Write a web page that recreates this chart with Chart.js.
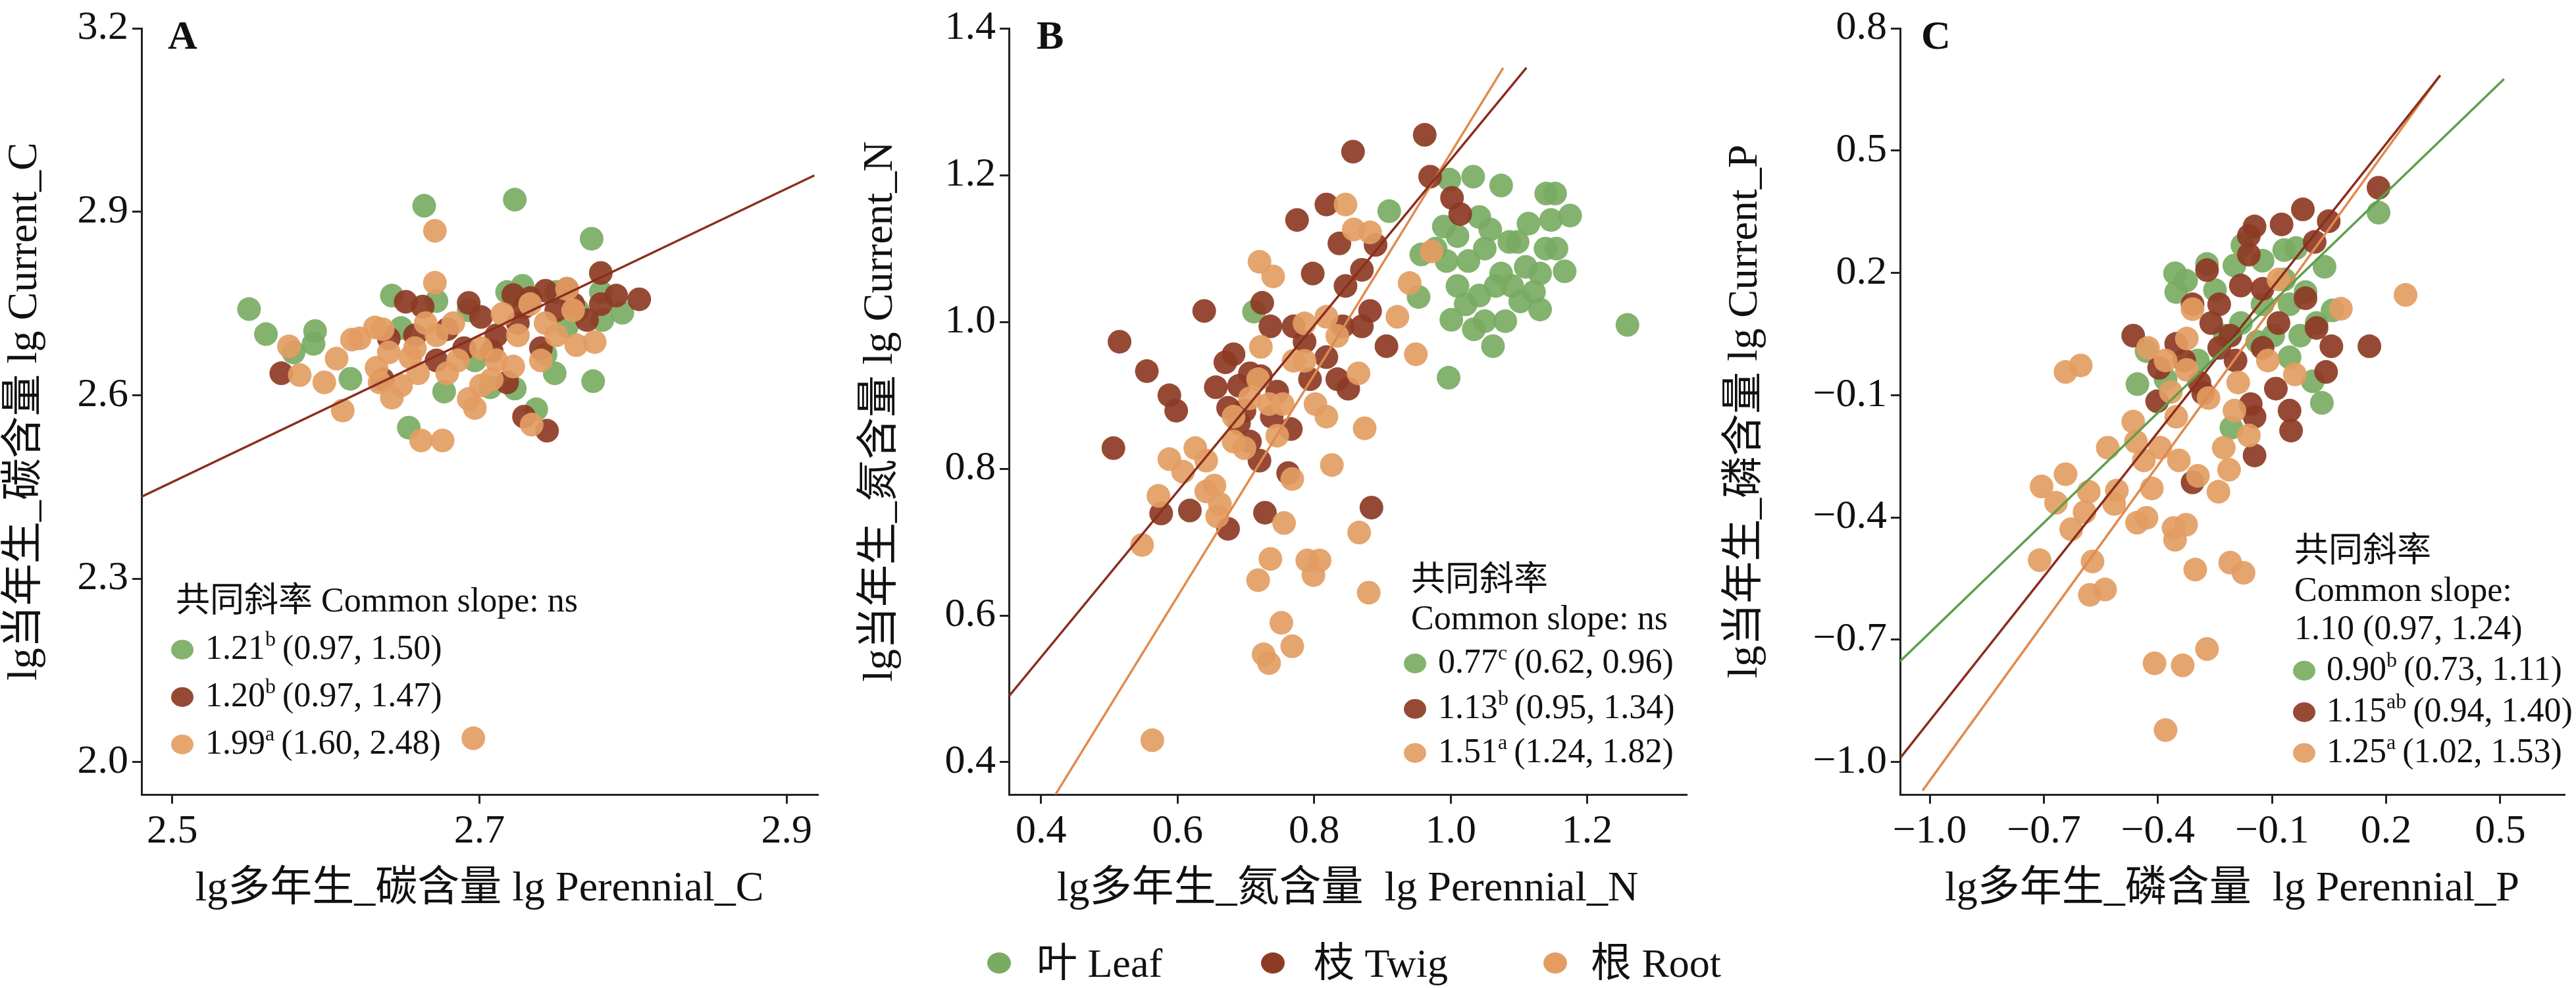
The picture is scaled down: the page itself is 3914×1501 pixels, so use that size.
<!DOCTYPE html>
<html>
<head>
<meta charset="utf-8">
<script src="https://cdn.jsdelivr.net/npm/chart.js@4.4.1/dist/chart.umd.min.js"></script>
<style>
  body { margin: 0; background: #fff; width: 3914px; height: 1501px; position: relative; overflow: hidden; }
  canvas { position: absolute; top: 0; }
  .leg { position: absolute; top: 1432px; line-height: 62px; font: 62px "Liberation Serif", "Noto Sans CJK SC", serif; color: #111; white-space: nowrap; }
  .dot { position: absolute; width: 36px; height: 32px; border-radius: 50%; top: 1447px; }
</style>
</head>
<body>
<canvas id="panelA" width="1260" height="1400" style="left:0px"></canvas>
<canvas id="panelB" width="1280" height="1400" style="left:1300px"></canvas>
<canvas id="panelC" width="1300" height="1400" style="left:2614px"></canvas>

<div class="dot" style="left:1500px;background:#79ab63"></div><div class="leg" style="left:1575px;line-height:62px">叶 Leaf</div>
<div class="dot" style="left:1916px;background:#8d3b24"></div><div class="leg" style="left:1996px;line-height:62px">枝 Twig</div>
<div class="dot" style="left:2345px;background:#e39d63"></div><div class="leg" style="left:2417px;line-height:62px">根 Root</div>

<script>
// colours
const leafColor = 'rgba(121,171,99,0.92)';
const twigColor = 'rgba(141,59,36,0.92)';
const rootColor = 'rgba(227,157,99,0.92)';
const twigLine = '#8b2e1e';
const rootLine = '#e08a4d';
const leafLine = '#5ca04a';
const FONT = '"Liberation Serif", "Noto Sans CJK SC", serif';

// ---- panel A : carbon ----
const leafA = [[2.550,2.741],[2.561,2.700],[2.593,2.705],[2.592,2.684],[2.579,2.670],[2.616,2.627],[2.643,2.763],[2.649,2.710],[2.664,2.910],[2.723,2.920],[2.773,2.856],[2.779,2.769],[2.793,2.735],[2.774,2.623],[2.749,2.636],[2.737,2.577],[2.654,2.547],[2.677,2.606],[2.707,2.613],[2.723,2.611],[2.728,2.779],[2.718,2.769],[2.780,2.723],[2.672,2.754],[2.697,2.657],[2.764,2.739],[2.743,2.667],[2.757,2.713],[2.693,2.739],[2.750,2.769]];
const twigA = [[2.571,2.636],[2.652,2.753],[2.663,2.745],[2.641,2.693],[2.693,2.751],[2.658,2.698],[2.679,2.708],[2.722,2.764],[2.733,2.759],[2.743,2.771],[2.757,2.774],[2.779,2.800],[2.789,2.763],[2.804,2.757],[2.779,2.749],[2.770,2.723],[2.729,2.565],[2.744,2.542],[2.718,2.621],[2.740,2.677],[2.725,2.718],[2.708,2.672],[2.701,2.728],[2.761,2.749],[2.750,2.739],[2.672,2.657],[2.690,2.677],[2.637,2.626],[2.729,2.744],[2.711,2.698]];
const rootA = [[2.576,2.680],[2.583,2.633],[2.599,2.621],[2.607,2.660],[2.611,2.575],[2.617,2.691],[2.622,2.693],[2.632,2.711],[2.633,2.645],[2.635,2.621],[2.643,2.596],[2.649,2.616],[2.641,2.670],[2.655,2.662],[2.660,2.636],[2.662,2.526],[2.676,2.526],[2.671,2.869],[2.671,2.784],[2.693,2.594],[2.697,2.579],[2.696,2.039],[2.734,2.552],[2.672,2.698],[2.683,2.718],[2.686,2.657],[2.701,2.677],[2.708,2.626],[2.715,2.733],[2.725,2.698],[2.722,2.647],[2.733,2.749],[2.743,2.718],[2.757,2.774],[2.761,2.739],[2.763,2.682],[2.775,2.687],[2.750,2.698],[2.658,2.677],[2.679,2.636],[2.701,2.616],[2.711,2.657],[2.740,2.657],[2.637,2.708],[2.665,2.718]];
const ticksAx = [2.5, 2.7, 2.9];
const ticksAy = [2.0, 2.3, 2.6, 2.9, 3.2];

// ---- panel B : nitrogen ----
const leafB = [[0.910,1.151],[0.998,1.194],[1.033,1.198],[1.074,1.186],[1.140,1.175],[1.153,1.175],[1.175,1.145],[0.957,1.092],[0.953,1.034],[0.712,1.014],[0.997,0.924],[1.001,1.003],[1.034,0.990],[1.050,1.001],[1.062,0.967],[1.080,1.001],[1.098,1.109],[1.114,1.134],[1.131,1.066],[1.167,1.069],[1.139,1.100],[1.122,1.041],[1.131,1.017],[1.102,1.028],[1.010,1.049],[1.026,1.083],[1.042,1.143],[1.058,1.126],[1.074,1.066],[1.090,1.049],[0.994,1.083],[0.978,1.100],[1.010,1.117],[1.050,1.100],[1.086,1.109],[1.155,1.100],[1.147,1.139],[1.042,1.036],[0.990,1.130],[1.259,0.996],[1.022,1.024],[1.110,1.075],[1.066,1.049]];
const twigB = [[0.515,0.973],[0.506,0.828],[0.555,0.933],[0.588,0.900],[0.598,0.879],[0.576,0.739],[0.618,0.743],[0.639,1.015],[0.656,0.911],[0.670,0.945],[0.682,0.956],[0.674,0.883],[0.690,0.862],[0.706,0.837],[0.724,1.026],[0.736,0.994],[0.722,0.926],[0.720,0.811],[0.728,0.740],[0.674,0.718],[0.762,0.794],[0.766,0.854],[0.770,0.994],[0.775,1.139],[0.798,1.066],[0.818,1.160],[0.857,1.232],[0.837,1.107],[0.870,1.071],[0.890,1.105],[0.882,1.015],[0.906,0.967],[0.962,1.255],[0.970,1.198],[1.002,1.169],[1.014,1.147],[0.884,0.747],[0.850,0.909],[0.834,0.922],[0.818,0.952],[0.794,0.922],[0.786,0.973],[0.746,0.905],[0.738,0.871],[0.698,0.879],[0.690,0.913],[0.706,0.930],[0.842,0.994],[0.870,0.994],[0.846,1.049]];
const rootB = [[0.548,0.696],[0.563,0.430],[0.572,0.763],[0.588,0.813],[0.608,0.796],[0.626,0.828],[0.642,0.811],[0.654,0.777],[0.662,0.752],[0.682,0.837],[0.698,0.828],[0.720,1.082],[0.740,1.062],[0.722,0.966],[0.718,0.922],[0.734,0.888],[0.746,0.845],[0.754,0.888],[0.768,0.786],[0.756,0.726],[0.736,0.677],[0.718,0.648],[0.752,0.590],[0.726,0.547],[0.734,0.535],[0.768,0.558],[0.790,0.675],[0.799,0.655],[0.808,0.675],[0.826,0.805],[0.874,0.855],[0.866,0.713],[0.880,0.631],[0.846,1.160],[0.858,1.126],[0.882,1.122],[0.922,1.007],[0.949,0.956],[0.940,1.053],[0.972,1.096],[0.865,0.930],[0.818,0.871],[0.802,0.888],[0.786,0.947],[0.818,1.007],[0.834,0.981],[0.770,0.947],[0.786,0.998],[0.642,0.769],[0.658,0.735],[0.682,0.871],[0.706,0.896]];
const ticksBx = [0.4, 0.6, 0.8, 1.0, 1.2];
const ticksBy = [0.4, 0.6, 0.8, 1.0, 1.2, 1.4];

// ---- panel C : phosphorus ----
const leafC = [[-0.355,0.199],[-0.352,0.153],[-0.326,0.181],[-0.271,0.222],[-0.250,0.158],[-0.199,0.218],[-0.178,0.268],[-0.125,0.230],[-0.068,0.256],[-0.037,0.261],[0.038,0.215],[0.180,0.348],[0.059,0.108],[0.031,-0.119],[0.007,-0.066],[-0.054,-0.007],[-0.097,0.046],[-0.207,-0.180],[-0.454,-0.073],[-0.430,0.008],[-0.380,-0.061],[-0.182,0.077],[-0.125,0.123],[-0.054,0.123],[-0.012,0.153],[0.017,0.077],[-0.068,0.184],[-0.026,0.046],[-0.139,0.031],[-0.295,-0.015],[-0.224,0.046]];
const twigC = [[-0.465,0.046],[-0.402,-0.115],[-0.397,-0.033],[-0.352,0.026],[-0.309,0.123],[-0.271,0.207],[-0.291,-0.069],[-0.281,-0.095],[-0.309,-0.314],[-0.260,0.077],[-0.239,0.123],[-0.210,0.046],[-0.182,0.169],[-0.161,0.291],[-0.146,0.314],[-0.161,0.245],[-0.125,0.161],[-0.075,0.319],[-0.019,0.356],[0.049,0.327],[0.012,0.276],[-0.012,0.138],[0.017,0.065],[0.056,0.020],[0.042,-0.043],[0.156,0.020],[0.180,0.409],[-0.054,-0.138],[-0.050,-0.187],[-0.146,-0.248],[-0.156,-0.122],[-0.146,-0.153],[-0.090,-0.084],[-0.125,0.016],[-0.083,0.077],[-0.196,-0.015],[-0.239,0.016],[-0.331,-0.015]];
const rootC = [[-0.711,-0.505],[-0.706,-0.324],[-0.668,-0.364],[-0.643,-0.294],[-0.643,-0.043],[-0.603,-0.027],[-0.628,-0.429],[-0.593,-0.387],[-0.582,-0.337],[-0.572,-0.508],[-0.579,-0.590],[-0.539,-0.577],[-0.532,-0.229],[-0.508,-0.334],[-0.515,-0.367],[-0.465,-0.165],[-0.455,-0.413],[-0.430,-0.401],[-0.416,-0.329],[-0.409,-0.758],[-0.380,-0.922],[-0.359,-0.426],[-0.355,-0.455],[-0.335,-0.763],[-0.326,-0.418],[-0.345,-0.260],[-0.352,-0.153],[-0.366,-0.092],[-0.324,-0.038],[-0.309,0.111],[-0.324,0.039],[-0.295,-0.298],[-0.271,-0.723],[-0.241,-0.337],[-0.213,-0.283],[-0.227,-0.229],[-0.210,-0.511],[-0.175,-0.536],[-0.161,-0.199],[-0.199,-0.138],[-0.189,-0.069],[-0.111,-0.015],[-0.083,0.184],[-0.040,-0.049],[0.081,0.112],[0.251,0.146],[-0.302,-0.528],[-0.267,-0.107],[-0.394,-0.229],[-0.437,-0.260],[-0.380,-0.015],[-0.426,0.016],[-0.458,-0.214]];
const ticksCx = [-1.0, -0.7, -0.4, -0.1, 0.2, 0.5];
const ticksCy = [-1.0, -0.7, -0.4, -0.1, 0.2, 0.5, 0.8];

// fitted lines: [slope, intercept, xFrom, xTo]
const fitA = { twig: [1.20, -0.542, 2.48, 2.918] };
const fitB = { twig: [1.13, 0.091, 0.353, 1.111], root: [1.51, -0.280, 0.421, 1.077] };
const fitC = { leaf: [0.90, 0.217, -1.078, 0.51], twig: [1.18, 0.281, -1.076, 0.342], root: [1.29, 0.244, -1.019, 0.342] };

const toPts = arr => arr.map(p => ({ x: p[0], y: p[1] }));
const fitPts = f => [{ x: f[2], y: f[1] + f[0] * f[2] }, { x: f[3], y: f[1] + f[0] * f[3] }];

function scatter(data, color, order) {
  return { type: 'scatter', data: toPts(data), backgroundColor: color, borderWidth: 0,
           pointRadius: 18, pointHoverRadius: 18, order: order };
}
function fitLine(f, color) {
  return { type: 'line', data: fitPts(f), borderColor: color, borderWidth: 3.5,
           pointRadius: 0, fill: false, order: 0 };
}

// text inside the plot (panel letter, slope notes)
const notesPlugin = {
  id: 'notes',
  afterDraw(chart, args, opts) {
    const ctx = chart.ctx;
    ctx.save();
    ctx.fillStyle = '#111';
    ctx.textBaseline = 'middle';
    ctx.font = 'bold 62px ' + FONT;
    ctx.fillText(opts.letter, opts.letterX, 58);
    ctx.font = '52px ' + FONT;
    opts.lines.forEach(l => ctx.fillText(l[0], l[1], l[2]));
    opts.rows.forEach(r => {
      ctx.fillStyle = r.color;
      ctx.beginPath();
      ctx.ellipse(r.dx, r.y, 17, 15, 0, 0, Math.PI * 2);
      ctx.fill();
      ctx.fillStyle = '#111';
      ctx.font = '52px ' + FONT;
      ctx.fillText(r.main, r.tx, r.y);
      let x = r.tx + ctx.measureText(r.main).width;
      ctx.font = '32px ' + FONT;
      ctx.fillText(r.sup, x, r.y - 14);
      x += ctx.measureText(r.sup).width + 10;
      ctx.font = '52px ' + FONT;
      ctx.fillText(r.rest, x, r.y);
    });
    ctx.restore();
  }
};

const fmt = v => (Math.abs(v) < 1e-9 ? 0 : v).toFixed(1).replace('-', '\u2212');

function makeChart(id, datasets, xr, yr, xt, yt, xTitle, yTitle, yw, padR, notes) {
  return new Chart(document.getElementById(id), {
    data: { datasets: datasets },
    plugins: [notesPlugin],
    options: {
      responsive: false, animation: false, devicePixelRatio: 1,
      layout: { padding: { top: 27, right: padR, left: 0, bottom: 10 } },
      plugins: { legend: { display: false }, tooltip: { enabled: false }, notes: notes },
      scales: {
        x: {
          type: 'linear', min: xr[0], max: xr[1],
          afterBuildTicks: s => { s.ticks = xt.map(v => ({ value: v })); },
          afterFit: s => { s.height = 183; },
          grid: { drawOnChartArea: false, color: '#222', lineWidth: 3, tickLength: 14 },
          border: { color: '#222', width: 3 },
          ticks: { color: '#111', font: { size: 62, family: FONT }, padding: 6, callback: fmt },
          title: { display: true, text: xTitle, color: '#111', font: { size: 64, family: FONT }, padding: { top: 4, bottom: 0 } }
        },
        y: {
          type: 'linear', min: yr[0], max: yr[1],
          afterBuildTicks: s => { s.ticks = yt.map(v => ({ value: v })); },
          afterFit: s => { s.width = yw; },
          grid: { drawOnChartArea: false, color: '#222', lineWidth: 3, tickLength: 14 },
          border: { color: '#222', width: 3 },
          ticks: { color: '#111', font: { size: 62, family: FONT }, padding: 6, callback: fmt },
          title: { display: true, text: yTitle, color: '#111', font: { size: 64, family: FONT }, padding: { top: 0, bottom: 4 } }
        }
      }
    }
  });
}

makeChart('panelA',
  [fitLine(fitA.twig, twigLine), scatter(rootA, rootColor, 1), scatter(twigA, twigColor, 2), scatter(leafA, leafColor, 3)],
  [2.48, 2.92], [1.947, 3.2], ticksAx, ticksAy,
  'lg多年生_碳含量 lg Perennial_C', 'lg当年生_碳含量 lg Current_C', 215, 13,
  { letter: 'A', letterX: 255,
    lines: [['共同斜率 Common slope: ns', 267, 915]],
    rows: [
      { color: leafColor, dx: 277, tx: 312, y: 987, main: '1.21', sup: 'b', rest: '(0.97, 1.50)' },
      { color: twigColor, dx: 277, tx: 312, y: 1059, main: '1.20', sup: 'b', rest: '(0.97, 1.47)' },
      { color: rootColor, dx: 277, tx: 312, y: 1131, main: '1.99', sup: 'a', rest: '(1.60, 2.48)' }] });

makeChart('panelB',
  [fitLine(fitB.twig, twigLine), fitLine(fitB.root, rootLine), scatter(rootB, rootColor, 1), scatter(twigB, twigColor, 2), scatter(leafB, leafColor, 3)],
  [0.353, 1.345], [0.356, 1.4], ticksBx, ticksBy,
  'lg多年生_氮含量  lg Perennial_N', 'lg当年生_氮含量 lg Current_N', 233, 15,
  { letter: 'B', letterX: 275,
    lines: [['共同斜率', 844, 883], ['Common slope: ns', 844, 942]],
    rows: [
      { color: leafColor, dx: 850, tx: 885, y: 1008, main: '0.77', sup: 'c', rest: '(0.62, 0.96)' },
      { color: twigColor, dx: 850, tx: 885, y: 1077, main: '1.13', sup: 'b', rest: '(0.95, 1.34)' },
      { color: rootColor, dx: 850, tx: 885, y: 1144, main: '1.51', sup: 'a', rest: '(1.24, 1.82)' }] });

makeChart('panelC',
  [fitLine(fitC.leaf, leafLine), fitLine(fitC.twig, twigLine), fitLine(fitC.root, rootLine), scatter(rootC, rootColor, 1), scatter(twigC, twigColor, 2), scatter(leafC, leafColor, 3)],
  [-1.078, 0.668], [-1.08, 0.8], ticksCx, ticksCy,
  'lg多年生_磷含量  lg Perennial_P', 'lg当年生_磷含量 lg Current_P', 273, 0,
  { letter: 'C', letterX: 305,
    lines: [['共同斜率', 872, 839], ['Common slope:', 872, 899], ['1.10 (0.97, 1.24)', 872, 957]],
    rows: [
      { color: leafColor, dx: 887, tx: 921, y: 1019, main: '0.90', sup: 'b', rest: '(0.73, 1.11)' },
      { color: twigColor, dx: 887, tx: 921, y: 1082, main: '1.15', sup: 'ab', rest: '(0.94, 1.40)' },
      { color: rootColor, dx: 887, tx: 921, y: 1144, main: '1.25', sup: 'a', rest: '(1.02, 1.53)' }] });
</script>
</body>
</html>
